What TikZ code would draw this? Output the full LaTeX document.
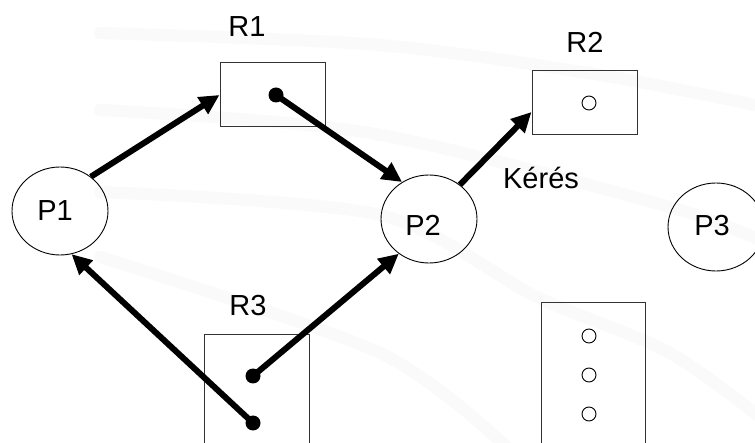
\documentclass[tikz,border=0pt]{standalone}
\usepackage{fontspec}
\setmainfont{Liberation Sans}
\usetikzlibrary{arrows.meta,shapes.geometric}

\begin{document}
\begin{tikzpicture}[x=1pt,y=-1pt,
  proc/.style={ellipse, draw, line width=0.9pt, minimum width=96pt, minimum height=88pt, inner sep=0pt},
  res/.style={draw=black!80, line width=1pt, inner sep=0pt},
  lbl/.style={font=\fontsize{29}{33}\selectfont, anchor=base, inner sep=0pt},
  held/.style={circle, fill, inner sep=0pt, minimum size=15pt},
  free/.style={circle, draw, line width=0.9pt, inner sep=0pt, minimum size=14pt},
  edge/.style={line width=6pt, -{Triangle[length=20pt,width=19pt]}},
  swoosh/.style={draw=black!2, line width=12pt, line cap=round}]

\useasboundingbox (0,0) rectangle (755,443);
\clip (0,0) rectangle (755,443);
\fill[white] (0,0) rectangle (755,443);

% faint background arcs
\draw[swoosh] plot[smooth] coordinates {(100,33) (380,45) (600,75) (770,108)};
\draw[swoosh] plot[smooth] coordinates {(100,110) (370,133) (670,207) (770,245)};
\draw[swoosh] plot[smooth] coordinates {(100,192) (380,215) (537,297) (670,353) (770,425)};
\draw[swoosh] plot[smooth] coordinates {(100,257) (380,353) (510,450)};

% processes
\node[proc] (P1) at (60,211) {};
\node[proc] (P2) at (429,219) {};
\node[proc] (P3) at (716,227) {};
\node[lbl] (tP1) at (55,221) {P1};
\node[lbl] (tP2) at (423,236) {P2};
\node[lbl] (tP3) at (712,236) {P3};

% resources
\node[res, minimum width=105pt, minimum height=64pt] (R1) at (272.5,95) {};
\node[res, minimum width=105pt, minimum height=64pt] (R2) at (584.5,103) {};
\node[res, minimum width=105pt, minimum height=130pt] (R3) at (256.5,400) {};
\node[res, minimum width=104pt, minimum height=160pt] (R4) at (593,383) {};
\node[lbl] (tR1) at (247,37) {R1};
\node[lbl] (tR2) at (585,53) {R2};
\node[lbl] (tR3) at (248,316) {R3};
\node[lbl] (tK) at (541,189) {Kérés};

% resource instances
\node[held] (d1) at (276,95) {};
\node[held] (d3a) at (253,376) {};
\node[held] (d3b) at (253,423) {};
\node[free] (c2) at (589,103) {};
\node[free] (c4a) at (589,336) {};
\node[free] (c4b) at (589,375) {};
\node[free] (c4c) at (589,414) {};

% edges
\coordinate (reqR2) at ([yshift=-9pt]R2.west);
\draw[edge] (P1.48) -- (R1.west);
\draw[edge] (d1.center) -- (P2.126);
\draw[edge] (P2.48) -- (reqR2);
\draw[edge] (d3a.center) -- (P2.229);
\draw[edge] (d3b.center) -- (P1.285);
\end{tikzpicture}
\end{document}
